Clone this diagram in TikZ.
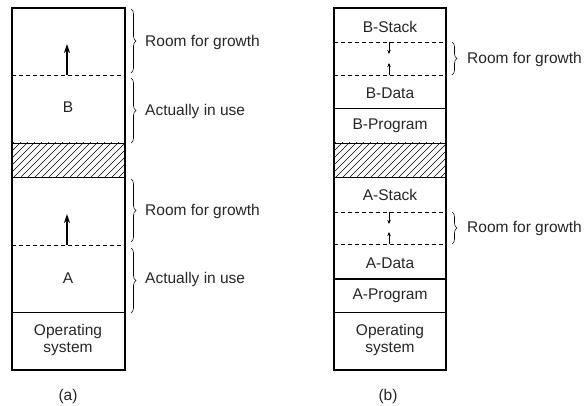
\documentclass[tikz,border=0pt]{standalone}
\usepackage{fontspec}
\setmainfont{Liberation Sans}
\usetikzlibrary{decorations.pathreplacing,arrows.meta}

\begin{document}
\begin{tikzpicture}[x=1pt,y=-1pt,
  outer/.style={line width=1.4pt},
  bottomedge/.style={line width=2.2pt},
  divider/.style={line width=0.9pt},
  growline/.style={dash pattern=on 4pt off 3pt, line width=0.7pt},
  growarrow/.style={-{Stealth[length=9pt,width=6pt]}, line width=2pt},
  tinyarrow/.style={-{Stealth[length=4pt,width=3.5pt]}, line width=0.7pt},
  gbrace/.style={decorate, decoration={brace, amplitude=5pt}, line width=0.6pt},
  lbl/.style={font=\fontsize{15.5}{16.5}\selectfont, inner sep=0pt, text=black!85},
  cell/.style={lbl, align=center},
  hatch/.style={line width=0.5pt}
]
\useasboundingbox (0,0) rectangle (586,406);

% ---------- (a): fixed partitions with one growth area each ----------
\begin{scope}
  \clip (12,143) rectangle (125,177);
  \foreach \i in {-40,-33,...,130} \draw[hatch] (12+\i,177) -- ++(40,-40);
\end{scope}
\draw[outer] (12,370) -- (12,8) -- (125,8) -- (125,370);
\draw[bottomedge] (11,370) -- (126,370);
\draw[divider] (12,143) -- (125,143);
\draw[divider] (12,177) -- (125,177);
\draw[divider] (12,312) -- (125,312);
\draw[growline] (12,75) -- (125,75);
\draw[growline] (12,245) -- (125,245);

\coordinate (aBfrom) at (67,75);  \coordinate (aBto) at (67,44);
\coordinate (aAfrom) at (67,245); \coordinate (aAto) at (67,214);
\draw[growarrow] (aBfrom) -- (aBto);
\draw[growarrow] (aAfrom) -- (aAto);

\node[cell] (aB) at (68,107) {B};
\node[cell] (aA) at (68,278) {A};
\node[cell] (aOS) at (68,340) {Operating\\system};

\coordinate (br1t) at (131,9);   \coordinate (br1b) at (131,73);
\coordinate (br2t) at (131,78);  \coordinate (br2b) at (131,143);
\coordinate (br3t) at (131,179); \coordinate (br3b) at (131,242);
\coordinate (br4t) at (131,248); \coordinate (br4b) at (131,313);
\draw[gbrace] (br1t) -- (br1b);
\draw[gbrace] (br2t) -- (br2b);
\draw[gbrace] (br3t) -- (br3b);
\draw[gbrace] (br4t) -- (br4b);
\node[lbl, anchor=west] (aRoomB) at (145,42)  {Room for growth};
\node[lbl, anchor=west] (aUseB)  at (145,111) {Actually in use};
\node[lbl, anchor=west] (aRoomA) at (145,211) {Room for growth};
\node[lbl, anchor=west] (aUseA)  at (145,279) {Actually in use};

\node[lbl] (capA) at (68,396) {(a)};

% ---------- (b): stack and data growing toward each other ----------
\begin{scope}
  \clip (334,143) rectangle (446,177);
  \foreach \i in {-40,-33,...,130} \draw[hatch] (334+\i,177) -- ++(40,-40);
\end{scope}
\draw[outer] (334,370) -- (334,8) -- (446,8) -- (446,370);
\draw[bottomedge] (333,370) -- (447,370);
\draw[divider] (334,108) -- (446,108);
\draw[divider] (334,143) -- (446,143);
\draw[divider] (334,177) -- (446,177);
\draw[divider, line width=1.3pt] (334,279) -- (446,279);
\draw[divider] (334,312) -- (446,312);
\draw[growline] (334,42) -- (446,42);
\draw[growline] (334,75) -- (446,75);
\draw[growline] (334,212) -- (446,212);
\draw[growline] (334,244) -- (446,244);

\coordinate (bBs0) at (389,42);  \coordinate (bBs1) at (389,54);
\coordinate (bBd0) at (389,75);  \coordinate (bBd1) at (389,63);
\coordinate (bAs0) at (389,212); \coordinate (bAs1) at (389,224);
\coordinate (bAd0) at (389,244); \coordinate (bAd1) at (389,232);
\draw[tinyarrow] (bBs0) -- (bBs1);
\draw[tinyarrow] (bBd0) -- (bBd1);
\draw[tinyarrow] (bAs0) -- (bAs1);
\draw[tinyarrow] (bAd0) -- (bAd1);

\node[cell] (bBStack) at (390,27)  {B-Stack};
\node[cell] (bBData)  at (390,93)  {B-Data};
\node[cell] (bBProg)  at (390,126) {B-Program};
\node[cell] (bAStack) at (390,195) {A-Stack};
\node[cell] (bAData)  at (390,263) {A-Data};
\node[cell] (bAProg)  at (390,296) {A-Program};
\node[cell] (bOS)     at (390,340) {Operating\\system};

\coordinate (bbr1t) at (452,42);  \coordinate (bbr1b) at (452,75);
\coordinate (bbr2t) at (452,212); \coordinate (bbr2b) at (452,244);
\draw[gbrace] (bbr1t) -- (bbr1b);
\draw[gbrace] (bbr2t) -- (bbr2b);
\node[lbl, anchor=west] (bRoomB) at (467,59)  {Room for growth};
\node[lbl, anchor=west] (bRoomA) at (467,228) {Room for growth};

\node[lbl] (capB) at (388,396) {(b)};
\end{tikzpicture}
\end{document}
